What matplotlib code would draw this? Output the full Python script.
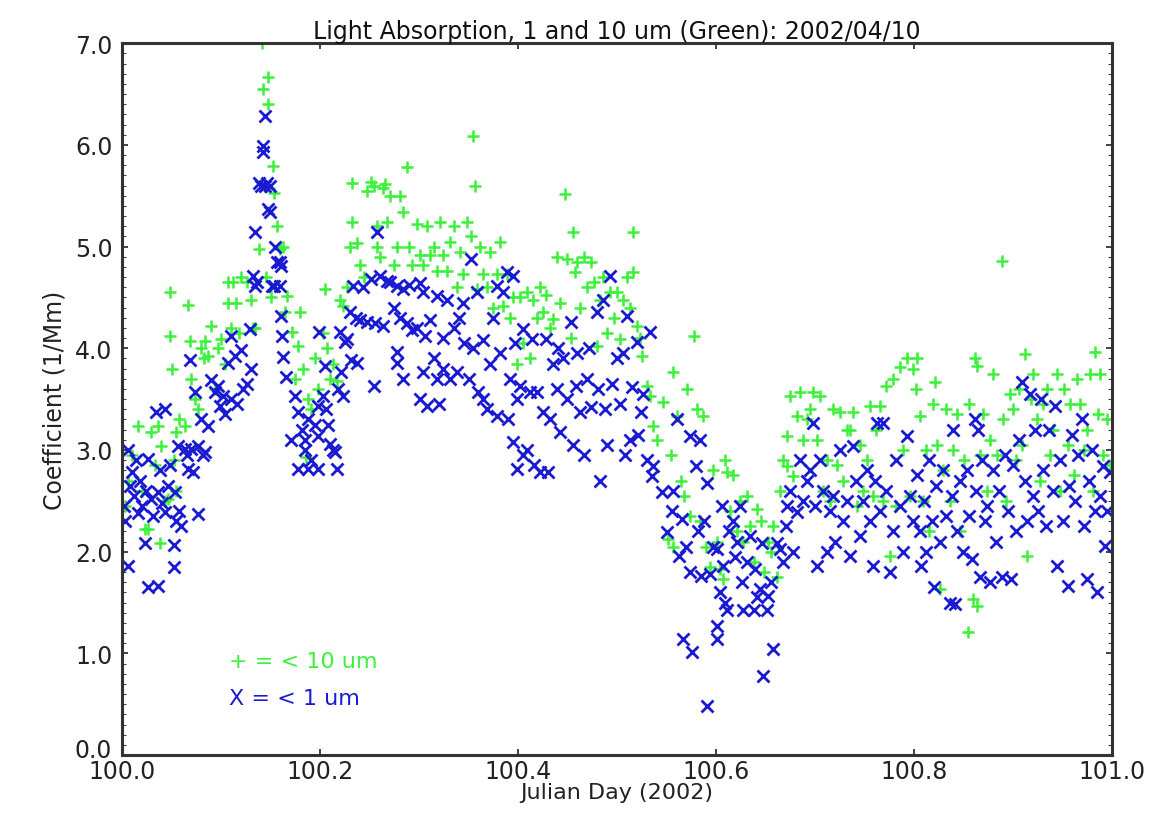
import numpy as np
import matplotlib
matplotlib.use("Agg")
import matplotlib.pyplot as plt
import matplotlib.transforms as mtransforms
from matplotlib.ticker import MultipleLocator

# < 10 um (green '+') : julian day, coefficient (1/Mm)
green_day = [
    # 100.00 - 100.10
    100.003, 100.006, 100.010, 100.016, 100.020, 100.023, 100.026, 100.029, 100.033, 100.036,
    100.038, 100.039, 100.043, 100.046, 100.048, 100.048, 100.050, 100.052, 100.054, 100.055,
    100.058, 100.064, 100.067, 100.069, 100.070, 100.074, 100.077, 100.080, 100.083, 100.084,
    100.087, 100.090, 100.094, 100.097, 100.100, 100.104,
    # 100.10 - 100.20
    100.107, 100.107, 100.110, 100.112, 100.115, 100.118, 100.120, 100.126, 100.130, 100.132,
    100.134, 100.138, 100.141, 100.142, 100.145, 100.147, 100.147, 100.150, 100.152, 100.153,
    100.157, 100.160, 100.163, 100.165, 100.167, 100.172, 100.175, 100.178, 100.180, 100.183,
    100.186, 100.188, 100.191, 100.195, 100.198,
    # 100.20 - 100.40
    100.203, 100.205, 100.207, 100.210, 100.213, 100.217, 100.220, 100.223, 100.227, 100.230,
    100.232, 100.232, 100.237, 100.240, 100.244, 100.247, 100.251, 100.254, 100.258, 100.258,
    100.261, 100.264, 100.266, 100.268, 100.271, 100.275, 100.278, 100.281, 100.284, 100.288,
    100.290, 100.293, 100.298, 100.301, 100.304, 100.308, 100.311, 100.315, 100.318, 100.321,
    100.324, 100.328, 100.331, 100.335, 100.338, 100.341, 100.344, 100.348, 100.352, 100.355,
    100.357, 100.359, 100.362, 100.365, 100.369, 100.372, 100.375, 100.379, 100.382, 100.385,
    100.389, 100.392, 100.395, 100.399,
    # 100.40 - 100.60
    100.402, 100.405, 100.409, 100.412, 100.415, 100.419, 100.422, 100.425, 100.428, 100.432,
    100.435, 100.439, 100.442, 100.447, 100.449, 100.453, 100.455, 100.458, 100.460, 100.463,
    100.467, 100.470, 100.474, 100.477, 100.480, 100.483, 100.486, 100.490, 100.493, 100.497,
    100.500, 100.503, 100.506, 100.510, 100.513, 100.516, 100.516, 100.520, 100.523, 100.525,
    100.530, 100.533, 100.536, 100.540, 100.546, 100.551, 100.554, 100.557, 100.557, 100.561,
    100.565, 100.568, 100.571, 100.574, 100.578, 100.581, 100.584, 100.587, 100.590, 100.594,
    100.597, 100.601,
    # 100.60 - 100.80
    100.604, 100.607, 100.609, 100.611, 100.614, 100.617, 100.621, 100.624, 100.627, 100.631,
    100.634, 100.638, 100.641, 100.645, 100.648, 100.652, 100.655, 100.658, 100.662, 100.665,
    100.668, 100.672, 100.672, 100.675, 100.678, 100.682, 100.685, 100.688, 100.692, 100.695,
    100.698, 100.702, 100.705, 100.708, 100.712, 100.715, 100.718, 100.722, 100.725, 100.728,
    100.732, 100.735, 100.738, 100.742, 100.745, 100.748, 100.752, 100.755, 100.759, 100.762,
    100.766, 100.769, 100.772, 100.776, 100.779, 100.782, 100.786, 100.789, 100.793, 100.796,
    100.799,
    # 100.80 - 101.00
    100.802, 100.803, 100.806, 100.809, 100.812, 100.815, 100.819, 100.821, 100.823, 100.826,
    100.829, 100.832, 100.836, 100.839, 100.843, 100.846, 100.850, 100.854, 100.856, 100.860,
    100.862, 100.864, 100.864, 100.867, 100.870, 100.874, 100.877, 100.880, 100.884, 100.889,
    100.890, 100.893, 100.897, 100.900, 100.903, 100.906, 100.909, 100.912, 100.914, 100.918,
    100.920, 100.924, 100.927, 100.930, 100.934, 100.937, 100.940, 100.944, 100.947, 100.951,
    100.955, 100.958, 100.962, 100.965, 100.968, 100.972, 100.975, 100.978, 100.981, 100.983,
    100.986, 100.988, 100.991, 100.995, 100.998,
]
green_val = [
    2.45, 2.70, 2.95, 3.24, 2.60, 2.22, 2.22, 3.18, 2.85, 3.24,
    2.09, 3.04, 2.50, 2.52, 4.55, 4.12, 3.80, 2.90, 3.18, 2.60,
    3.30, 3.24, 4.43, 4.07, 3.70, 3.50, 3.40, 4.00, 3.90, 4.07,
    3.92, 4.22, 3.60, 4.00, 4.09, 3.85,
    4.65, 4.45, 4.20, 4.65, 4.45, 4.15, 4.70, 4.65, 4.48, 4.20,
    4.20, 4.98, 7.00, 6.55, 4.70, 6.67, 6.40, 4.50, 5.79, 5.53,
    5.20, 4.98, 5.00, 4.36, 4.51, 4.16, 3.70, 4.02, 4.36, 3.80,
    2.93, 3.50, 3.40, 3.90, 3.60,
    4.15, 4.58, 4.00, 3.70, 3.85, 3.68, 4.48, 4.42, 4.60, 5.00,
    5.24, 5.63, 5.04, 4.82, 4.70, 5.55, 5.64, 5.60, 5.00, 5.20,
    4.90, 5.58, 5.62, 5.24, 5.50, 4.82, 5.00, 5.50, 5.34, 5.78,
    5.00, 4.82, 5.22, 4.92, 4.82, 5.20, 4.92, 5.00, 4.76, 5.24,
    4.92, 4.76, 5.05, 5.20, 4.60, 4.95, 4.73, 5.24, 5.10, 6.09,
    5.60, 4.58, 5.00, 4.73, 4.60, 4.95, 4.40, 4.73, 5.05, 4.42,
    4.73, 4.30, 4.50, 3.85,
    4.50, 4.05, 4.55, 3.90, 4.48, 4.30, 4.60, 4.36, 4.52, 4.20,
    4.29, 4.90, 4.45, 5.52, 4.88, 4.10, 5.14, 4.75, 4.85, 4.40,
    4.90, 4.60, 4.85, 4.65, 4.02, 4.48, 4.70, 4.15, 4.55, 4.30,
    4.55, 4.09, 4.48, 4.70, 4.40, 5.14, 4.75, 4.22, 4.10, 3.92,
    3.63, 3.53, 3.24, 3.10, 3.47, 2.12, 2.95, 3.77, 2.05, 3.33,
    2.70, 2.55, 3.60, 2.35, 4.12, 3.40, 2.30, 3.33, 2.05, 1.85,
    2.80, 2.10,
    1.83, 1.73, 2.90, 2.78, 2.40, 2.75, 2.20, 2.50, 2.10, 2.55,
    2.25, 1.90, 2.42, 2.30, 1.80, 2.10, 2.00, 2.25, 1.75, 2.60,
    2.90, 3.14, 2.84, 3.53, 2.74, 3.33, 3.57, 3.10, 3.30, 3.40,
    3.57, 3.10, 3.53, 2.60, 2.90, 2.50, 3.40, 2.85, 3.37, 2.70,
    3.20, 3.20, 3.37, 2.45, 3.05, 2.60, 2.90, 3.43, 2.55, 3.20,
    3.43, 2.50, 3.63, 1.96, 3.70, 2.45, 3.82, 3.00, 3.90, 2.55,
    3.80,
    3.60, 3.90, 3.33, 2.50, 3.00, 2.20, 3.45, 3.67, 3.05, 1.63,
    2.80, 3.40, 2.50, 3.00, 3.35, 2.20, 2.90, 1.21, 3.45, 1.53,
    3.90, 3.83, 1.47, 2.95, 3.35, 2.60, 3.10, 3.75, 2.95, 4.86,
    3.30, 2.50, 3.55, 3.40, 2.90, 3.60, 3.05, 3.94, 1.96, 3.50,
    3.75, 3.30, 2.70, 3.45, 3.60, 2.95, 3.20, 3.75, 2.60, 3.60,
    3.05, 3.45, 2.75, 3.70, 3.45, 3.00, 3.20, 3.75, 2.60, 3.96,
    3.35, 3.75, 2.95, 3.30, 2.85,
]

# < 1 um (blue 'x')
blue_day = [
    # 100.00 - 100.10
    100.002, 100.003, 100.006, 100.006, 100.008, 100.010, 100.012, 100.014, 100.016, 100.018,
    100.020, 100.023, 100.024, 100.026, 100.026, 100.029, 100.031, 100.034, 100.036, 100.036,
    100.038, 100.040, 100.043, 100.043, 100.046, 100.048, 100.052, 100.052, 100.053, 100.055,
    100.057, 100.058, 100.060, 100.064, 100.066, 100.067, 100.069, 100.070, 100.072, 100.074,
    100.077, 100.077, 100.080, 100.082, 100.084, 100.087, 100.090, 100.094, 100.097, 100.099,
    100.102, 100.104,
    # 100.10 - 100.20
    100.107, 100.110, 100.110, 100.114, 100.116, 100.120, 100.122, 100.126, 100.129, 100.130,
    100.132, 100.134, 100.134, 100.136, 100.138, 100.140, 100.142, 100.142, 100.144, 100.144,
    100.146, 100.147, 100.149, 100.149, 100.151, 100.153, 100.155, 100.157, 100.160, 100.160,
    100.161, 100.161, 100.162, 100.163, 100.166, 100.171, 100.175, 100.178, 100.178, 100.182,
    100.185, 100.185, 100.188, 100.188, 100.191, 100.195, 100.198, 100.198, 100.198, 100.199,
    # 100.20 - 100.40
    100.203, 100.205, 100.206, 100.208, 100.210, 100.213, 100.215, 100.217, 100.218, 100.220,
    100.221, 100.223, 100.225, 100.227, 100.230, 100.231, 100.233, 100.236, 100.237, 100.240,
    100.243, 100.247, 100.251, 100.254, 100.256, 100.258, 100.261, 100.264, 100.268, 100.271,
    100.275, 100.278, 100.278, 100.278, 100.281, 100.284, 100.284, 100.288, 100.290, 100.293,
    100.298, 100.301, 100.301, 100.304, 100.304, 100.306, 100.308, 100.311, 100.315, 100.318,
    100.318, 100.320, 100.324, 100.324, 100.328, 100.331, 100.335, 100.338, 100.340, 100.344,
    100.345, 100.350, 100.352, 100.355, 100.359, 100.360, 100.365, 100.365, 100.369, 100.372,
    100.375, 100.379, 100.379, 100.382, 100.385, 100.389, 100.390, 100.392, 100.395, 100.397,
    100.399, 100.399,
    # 100.40 - 100.60
    100.395, 100.402, 100.405, 100.405, 100.409, 100.412, 100.414, 100.416, 100.419, 100.422,
    100.425, 100.428, 100.430, 100.432, 100.435, 100.439, 100.440, 100.442, 100.445, 100.449,
    100.453, 100.455, 100.459, 100.460, 100.463, 100.467, 100.470, 100.472, 100.474, 100.480,
    100.481, 100.483, 100.486, 100.488, 100.490, 100.493, 100.495, 100.500, 100.503, 100.506,
    100.508, 100.510, 100.513, 100.515, 100.520, 100.521, 100.524, 100.526, 100.530, 100.533,
    100.535, 100.536, 100.545, 100.550, 100.555, 100.557, 100.561, 100.563, 100.566, 100.567,
    100.570, 100.574, 100.574, 100.576, 100.580, 100.582, 100.584, 100.585, 100.588, 100.591,
    100.591, 100.594, 100.597, 100.601, 100.601, 100.601,
    # 100.60 - 100.80
    100.604, 100.606, 100.607, 100.609, 100.611, 100.613, 100.617, 100.619, 100.621, 100.624,
    100.626, 100.627, 100.631, 100.634, 100.638, 100.639, 100.641, 100.644, 100.646, 100.647,
    100.651, 100.652, 100.655, 100.658, 100.662, 100.665, 100.668, 100.671, 100.672, 100.675,
    100.678, 100.682, 100.685, 100.688, 100.692, 100.695, 100.698, 100.700, 100.702, 100.705,
    100.708, 100.712, 100.715, 100.718, 100.720, 100.725, 100.728, 100.732, 100.735, 100.738,
    100.741, 100.745, 100.748, 100.752, 100.755, 100.759, 100.761, 100.763, 100.766, 100.769,
    100.772, 100.776, 100.779, 100.782, 100.786, 100.789, 100.793, 100.796, 100.799,
    # 100.80 - 101.00
    100.803, 100.806, 100.807, 100.810, 100.812, 100.815, 100.818, 100.820, 100.822, 100.826,
    100.829, 100.832, 100.836, 100.838, 100.839, 100.841, 100.843, 100.846, 100.849, 100.853,
    100.856, 100.859, 100.862, 100.863, 100.865, 100.867, 100.869, 100.872, 100.874, 100.877,
    100.880, 100.883, 100.886, 100.889, 100.892, 100.895, 100.898, 100.900, 100.903, 100.906,
    100.909, 100.912, 100.914, 100.917, 100.920, 100.922, 100.925, 100.928, 100.930, 100.933,
    100.936, 100.940, 100.942, 100.944, 100.947, 100.950, 100.955, 100.957, 100.960, 100.963,
    100.966, 100.970, 100.972, 100.975, 100.977, 100.980, 100.983, 100.985, 100.988, 100.991,
    100.993, 100.995, 100.998,
]
blue_val = [
    2.45, 2.30, 1.86, 3.00, 2.65, 2.78, 2.55, 2.90, 2.38, 2.70,
    2.45, 2.09, 2.60, 1.65, 2.91, 2.52, 2.35, 3.37, 1.66, 2.59,
    2.80, 2.48, 3.40, 2.39, 2.65, 2.85, 1.85, 2.07, 2.59, 2.30,
    3.04, 2.40, 2.25, 3.01, 2.95, 2.81, 3.89, 3.01, 2.78, 3.57,
    2.37, 3.04, 3.30, 2.95, 2.98, 3.24, 3.69, 3.57, 3.63, 3.43,
    3.53, 3.35,
    3.86, 4.12, 3.50, 3.92, 3.45, 3.98, 3.60, 3.65, 4.19, 3.80,
    4.71, 4.61, 5.14, 4.65, 5.63, 5.60, 5.99, 5.93, 6.28, 5.60,
    5.63, 5.37, 5.60, 5.34, 4.61, 4.61, 5.00, 4.85, 4.85, 4.61,
    4.81, 4.32, 4.12, 3.91, 3.72, 3.10, 3.53, 3.37, 2.81, 3.20,
    3.10, 3.00, 3.30, 2.81, 2.90, 3.25, 3.43, 3.14, 2.81, 4.16,
    3.53, 3.83, 3.40, 3.25, 3.06, 3.00, 2.98, 2.81, 3.60, 4.16,
    3.77, 3.53, 4.06, 4.09, 4.36, 3.89, 4.61, 4.30, 3.86, 4.28,
    4.60, 4.26, 4.68, 3.63, 4.25, 5.14, 4.71, 4.22, 4.66, 4.65,
    4.40, 4.61, 3.96, 3.86, 4.30, 4.58, 3.70, 4.25, 4.62, 4.18,
    4.20, 4.64, 3.50, 4.55, 3.77, 4.12, 3.43, 4.28, 3.90, 4.51,
    3.70, 3.45, 4.10, 3.80, 4.48, 3.70, 4.20, 3.77, 4.30, 4.45,
    4.05, 3.70, 4.88, 4.00, 4.55, 3.57, 4.08, 3.50, 3.40, 3.85,
    4.30, 4.61, 3.33, 3.95, 4.55, 4.75, 3.30, 3.70, 3.08, 4.05,
    3.50, 2.81,
    4.71, 3.63, 4.19, 2.95, 3.00, 3.57, 4.09, 2.85, 3.57, 2.78,
    3.37, 4.09, 2.78, 3.30, 3.85, 3.60, 4.00, 3.18, 3.90, 3.50,
    4.26, 3.05, 3.63, 3.95, 3.37, 2.95, 3.70, 4.00, 3.42, 4.36,
    3.60, 2.70, 4.48, 3.40, 3.05, 4.71, 3.65, 3.90, 3.45, 3.95,
    2.95, 4.32, 3.10, 3.62, 4.06, 3.15, 3.37, 3.55, 2.90, 4.16,
    2.74, 2.84, 2.59, 2.19, 2.40, 2.60, 3.30, 1.96, 2.32, 1.14,
    2.05, 3.14, 1.80, 1.01, 2.84, 2.20, 3.10, 1.76, 2.30, 0.48,
    2.68, 1.78, 2.05, 2.03, 1.27, 1.14,
    1.60, 2.45, 1.86, 1.50, 1.43, 2.20, 2.30, 1.95, 2.10, 2.45,
    1.70, 1.43, 1.90, 2.15, 1.43, 1.83, 1.55, 1.63, 2.09, 0.78,
    1.43, 1.56, 1.70, 1.04, 2.09, 2.03, 1.90, 2.25, 2.45, 2.60,
    2.00, 2.39, 2.90, 2.50, 2.70, 2.80, 3.27, 2.45, 1.86, 2.90,
    2.60, 2.00, 2.40, 2.55, 2.10, 3.00, 2.30, 2.50, 1.96, 3.04,
    2.70, 2.15, 2.50, 2.80, 2.30, 1.86, 2.70, 3.27, 2.40, 3.27,
    2.60, 1.80, 2.20, 2.90, 2.45, 2.00, 3.14, 2.55, 2.30,
    2.75, 2.20, 1.86, 2.50, 2.00, 2.90, 2.30, 1.65, 2.65, 2.10,
    2.80, 2.35, 1.50, 2.55, 3.20, 1.49, 2.20, 2.70, 2.00, 2.80,
    2.35, 1.93, 3.30, 2.60, 3.20, 1.75, 2.90, 2.30, 2.45, 1.70,
    2.80, 2.10, 2.60, 1.75, 2.95, 2.40, 1.73, 2.85, 2.20, 3.10,
    3.67, 2.70, 2.30, 3.55, 2.55, 3.20, 2.40, 3.50, 2.80, 2.25,
    3.20, 2.60, 3.43, 1.86, 2.90, 2.30, 1.66, 2.65, 3.15, 2.50,
    2.95, 3.30, 2.25, 1.73, 2.70, 3.00, 2.40, 1.60, 2.55, 2.84,
    2.06, 2.40, 2.78,
]

green = '#3cf03c'
blue = '#1a1ad0'

fig = plt.figure(figsize=(11.59, 8.2), dpi=100)
ax = fig.add_axes([0.1053, 0.078, 0.8542, 0.868])

ax.plot(green_day, green_val, linestyle='none', marker='+', color=green,
        markersize=9, markeredgewidth=1.8)
ax.plot(blue_day, blue_val, linestyle='none', marker='x', color=blue,
        markersize=8, markeredgewidth=2.0)

ax.set_xlim(100.0, 101.0)
ax.set_ylim(0.0, 7.0)
ax.set_xticks(np.arange(100.0, 101.01, 0.2))
ax.set_xticklabels(['100.0', '100.2', '100.4', '100.6', '100.8', '101.0'])
ax.set_yticks(np.arange(0, 7.01, 1.0))
ax.set_yticklabels(['%.1f' % v for v in np.arange(0, 7.01, 1.0)])
ax.yaxis.set_minor_locator(MultipleLocator(0.1))
ax.tick_params(axis='both', which='major', direction='in', length=4, width=1.2,
               labelsize=17, colors='#222222', top=True, right=True)
ax.tick_params(axis='x', which='major', pad=3)
ax.tick_params(axis='y', which='major', pad=7)
ax.tick_params(axis='y', which='minor', direction='in', length=3, width=0.8,
               right=True, left=True, colors='#444444')
for sp in ax.spines.values():
    sp.set_linewidth(2.2)
    sp.set_color('#333333')

# lift the "0.0" label a little, as in the original, so it clears "100.0"
lab0 = ax.get_yticklabels()[0]
lab0.set_transform(lab0.get_transform() +
                   mtransforms.ScaledTranslation(0, 8 / 100, fig.dpi_scale_trans))

ax.set_title('Light Absorption, 1 and 10 um (Green): 2002/04/10', fontsize=17, pad=4,
             color='#111111')
ax.set_xlabel('Julian Day (2002)', fontsize=16, labelpad=-1, color='#222222')
ax.set_ylabel('Coefficient (1/Mm)', fontsize=17, labelpad=6, color='#222222')

ax.text(100.108, 0.87, '+ = < 10 um', color=green, fontsize=16)
ax.text(100.108, 0.50, 'X = < 1 um', color=blue, fontsize=16)

fig.savefig('out.png', dpi=100)
